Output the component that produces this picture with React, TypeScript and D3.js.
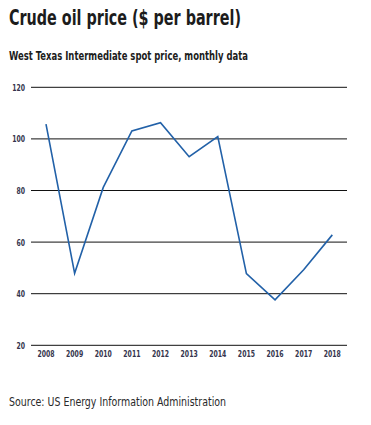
import React from 'react';
import * as d3 from 'd3';

const years = ['2008', '2009', '2010', '2011', '2012', '2013', '2014', '2015', '2016', '2017', '2018'];
const prices = [105.7, 47.9, 81.2, 103.1, 106.3, 93.1, 100.9, 47.8, 37.6, 49.3, 62.8];
const yTicks = [20, 40, 60, 80, 100, 120];

const W = 371;
const H = 425;

const narrow = '"Liberation Sans Narrow", "DejaVu Sans Condensed", sans-serif';

const App = () => {
  const x = d3.scalePoint<string>()
    .domain(years)
    .range([46, 332.3]);

  const y = d3.scaleLinear()
    .domain([20, 120])
    .range([345.3, 87.3]);

  const line = d3.line<number>()
    .x((d, i) => x(years[i]) as number)
    .y(d => y(d));

  // narrow tick labels: squeeze horizontally around the anchor point
  const squeeze = (cx: number) => `translate(${cx},0) scale(0.72,1) translate(${-cx},0)`;

  return (
    <svg width={W} height={H} style={{ position: 'absolute', left: 0, top: 0, background: '#fff' }}>
      <text x={9} y={25} fontFamily={narrow} fontWeight="bold" fontSize={21} fill="#1c1c1c"
        textLength={232} lengthAdjust="spacingAndGlyphs">
        Crude oil price ($ per barrel)
      </text>
      <text x={9} y={60} fontFamily={narrow} fontWeight="bold" fontSize={12} fill="#1c1c1c"
        textLength={239} lengthAdjust="spacingAndGlyphs">
        West Texas Intermediate spot price, monthly data
      </text>

      {yTicks.map(t => (
        <g key={t}>
          <line x1={31} x2={347} y1={y(t)} y2={y(t)} stroke="#111" strokeWidth={1} />
          <text x={25} y={y(t) + 3.5} textAnchor="end" fontFamily={narrow} fontSize={9.5}
            fontWeight={600} fill="#35354d" transform={squeeze(25)}>
            {t}
          </text>
        </g>
      ))}

      {years.map(yr => (
        <text key={yr} x={x(yr)} y={357} textAnchor="middle" fontFamily={narrow} fontSize={9.5}
          fontWeight={600} fill="#35354d" transform={squeeze(x(yr) as number)}>
          {yr}
        </text>
      ))}

      <path d={line(prices) ?? ''} fill="none" stroke="#2261a8" strokeWidth={1.6} strokeLinejoin="miter" />

      <text x={9} y={406} fontFamily={narrow} fontSize={12} fill="#2a2a2a"
        textLength={217} lengthAdjust="spacingAndGlyphs">
        Source: US Energy Information Administration
      </text>
    </svg>
  );
};

export default App;
